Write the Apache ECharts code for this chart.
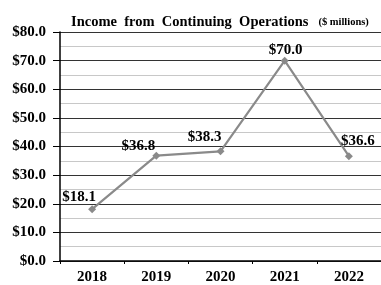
<!DOCTYPE html>
<html><head><meta charset="utf-8">
<script src="https://cdn.jsdelivr.net/npm/echarts@6/dist/echarts.min.js"></script>
<style>html,body{margin:0;padding:0;background:#fff}#c{width:381px;height:285px}</style>
</head><body><div id="c"></div>
<script>
const categories = ['2018','2019','2020','2021','2022'];
const values = [18.1, 36.8, 38.3, 70.0, 36.6];
const yTicks = [0, 10, 20, 30, 40, 50, 60, 70, 80];
const labelOffsets = [[-13,-12],[-18,-10],[-16,-14],[1,-11],[9,-15]];
const FONT = '"Liberation Serif", "Times New Roman", serif';
const chart = echarts.init(document.getElementById('c'));
chart.setOption({
  animation: false,
  title: {
    text: '{a|Income  from  Continuing  Operations}  {b|($ millions)}',
    left: 66, top: 8,
    textStyle: { rich: {
      a: { fontFamily: FONT, fontWeight: 'bold', fontSize: 14.5, color: '#000' },
      b: { fontFamily: FONT, fontWeight: 'bold', fontSize: 10.5, color: '#000' }
    } }
  },
  grid: { left: 60, right: 0, top: 32, bottom: 21 },
  xAxis: {
    type: 'category', data: categories, boundaryGap: true,
    axisLine: { lineStyle: { color: '#000', width: 1.5 } },
    axisTick: { show: true, length: 3, inside: false, lineStyle: { color: '#000' } },
    axisLabel: { fontFamily: FONT, fontWeight: 'bold', fontSize: 15, color: '#000', margin: 9 }
  },
  yAxis: {
    type: 'value', min: yTicks[0], max: yTicks[yTicks.length-1], interval: 10,
    axisLine: { show: true, lineStyle: { color: '#000', width: 1.5 } },
    axisTick: { show: true, length: 7, lineStyle: { color: '#000' } },
    axisLabel: { fontFamily: FONT, fontWeight: 'bold', fontSize: 15, color: '#000', margin: 14,
      formatter: v => '$' + v.toFixed(1) },
    splitLine: { show: true, lineStyle: { color: '#333', width: 1 } },
    minorTick: { show: false, splitNumber: 2 },
    minorSplitLine: { show: true, lineStyle: { color: '#c8c8c8', width: 1 } }
  },
  series: [{
    type: 'line', data: values.map((v,i)=>({value:v, label:{offset:labelOffsets[i]}})),
    symbol: 'diamond', symbolSize: 8,
    lineStyle: { color: '#8a8a8a', width: 2.2 },
    itemStyle: { color: '#8a8a8a' },
    label: { show: true, position: 'inside', fontFamily: FONT, fontWeight: 'bold', fontSize: 15, color: '#000',
      formatter: p => '$' + p.value.toFixed(1) }
  }]
});
</script></body></html>
